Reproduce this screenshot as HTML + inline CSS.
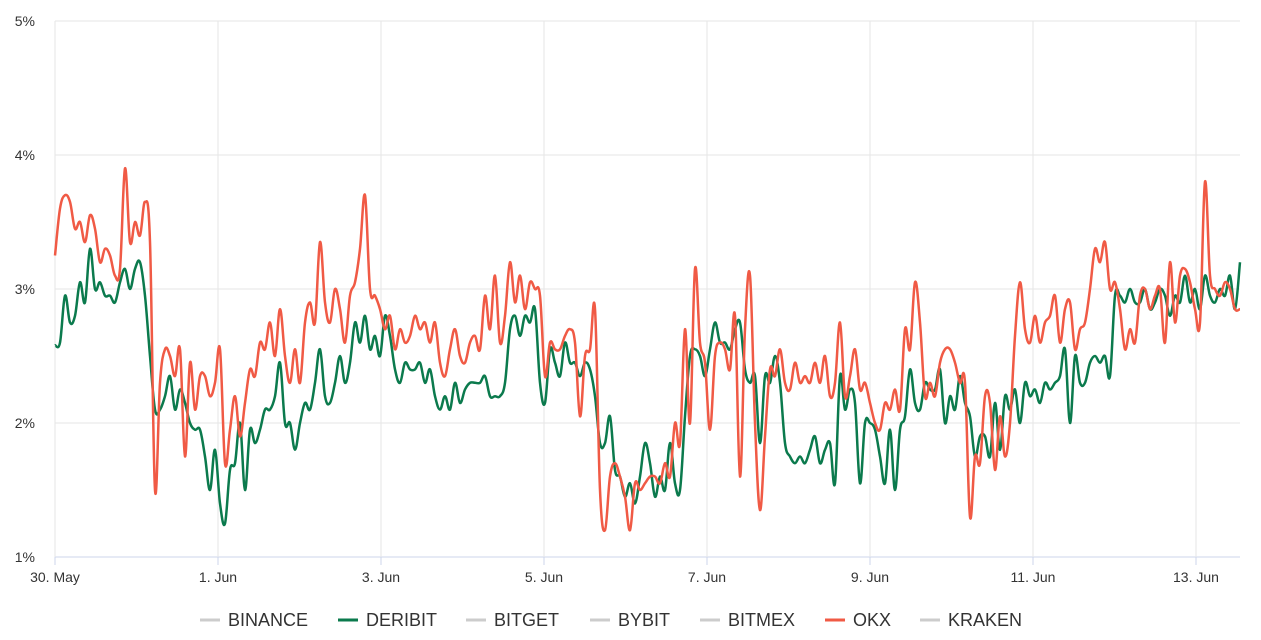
<!DOCTYPE html>
<html><head><meta charset="utf-8"><style>
body{margin:0;background:#fff;font-family:"Liberation Sans",sans-serif}
svg{display:block}
</style></head><body>
<svg id="chart" width="1261" height="640"></svg>
<script>
const xTickLabels=["30. May","1. Jun","3. Jun","5. Jun","7. Jun","9. Jun","11. Jun","13. Jun"];
const xTickDays=[0,2,4,6,8,10,12,14];
const yTicks=[1,2,3,4,5];
const totalDays=14.54;
const deribit=[2.58,2.6,2.95,2.75,2.8,3.05,2.9,3.3,3.0,3.05,2.95,2.95,2.9,3.05,3.15,3.0,3.15,3.2,2.95,2.5,2.1,2.1,2.2,2.35,2.1,2.25,2.15,2.0,1.95,1.95,1.75,1.5,1.8,1.4,1.25,1.65,1.7,2.0,1.5,1.95,1.85,1.95,2.1,2.1,2.2,2.45,2.0,2.0,1.8,2.0,2.15,2.1,2.3,2.55,2.2,2.15,2.3,2.5,2.3,2.45,2.75,2.6,2.8,2.55,2.65,2.5,2.8,2.65,2.4,2.3,2.45,2.4,2.4,2.45,2.3,2.4,2.2,2.1,2.2,2.1,2.3,2.15,2.25,2.3,2.3,2.3,2.35,2.2,2.2,2.2,2.3,2.7,2.8,2.65,2.8,2.75,2.85,2.3,2.15,2.55,2.45,2.35,2.6,2.45,2.45,2.35,2.45,2.4,2.2,1.85,1.85,2.05,1.65,1.6,1.45,1.55,1.4,1.6,1.85,1.7,1.45,1.6,1.5,1.85,1.55,1.5,2.05,2.5,2.55,2.5,2.35,2.55,2.75,2.6,2.6,2.55,2.7,2.75,2.4,2.3,2.35,1.85,2.35,2.3,2.5,2.3,1.85,1.75,1.7,1.75,1.7,1.8,1.9,1.7,1.8,1.85,1.55,2.35,2.1,2.25,2.15,1.55,2.0,2.0,1.95,1.75,1.55,1.95,1.5,1.95,2.05,2.4,2.15,2.1,2.3,2.25,2.25,2.4,2.0,2.2,2.1,2.35,2.15,2.05,1.75,1.9,1.9,1.75,2.15,1.8,2.2,2.1,2.25,2.0,2.3,2.2,2.25,2.15,2.3,2.25,2.3,2.35,2.55,2.0,2.5,2.3,2.3,2.45,2.5,2.45,2.5,2.35,2.95,2.95,2.9,3.0,2.9,2.9,3.0,2.85,2.9,3.0,2.95,2.8,2.95,2.9,3.1,2.9,3.0,2.85,3.1,2.95,2.9,3.0,2.95,3.1,2.85,3.2];
const okx=[3.25,3.6,3.7,3.65,3.45,3.5,3.35,3.55,3.45,3.2,3.3,3.25,3.1,3.15,3.9,3.35,3.5,3.4,3.65,3.35,1.5,2.3,2.55,2.5,2.35,2.55,1.75,2.45,2.1,2.35,2.35,2.2,2.3,2.55,1.7,1.95,2.2,1.9,2.15,2.4,2.35,2.6,2.55,2.75,2.5,2.85,2.5,2.3,2.55,2.3,2.75,2.9,2.75,3.35,2.9,2.75,3.0,2.85,2.6,2.95,3.05,3.3,3.7,3.0,2.95,2.85,2.7,2.8,2.55,2.7,2.6,2.65,2.8,2.7,2.75,2.6,2.75,2.45,2.35,2.55,2.7,2.5,2.45,2.6,2.65,2.55,2.95,2.7,3.1,2.6,2.8,3.2,2.9,3.1,2.85,3.05,3.0,2.95,2.35,2.6,2.55,2.55,2.65,2.7,2.6,2.05,2.5,2.55,2.85,1.5,1.2,1.6,1.7,1.6,1.45,1.2,1.55,1.5,1.55,1.6,1.6,1.55,1.7,1.6,2.0,1.85,2.7,2.0,3.15,2.6,2.45,1.95,2.5,2.6,2.55,2.4,2.8,1.6,2.7,3.1,2.0,1.35,1.9,2.4,2.35,2.55,2.3,2.25,2.45,2.3,2.35,2.3,2.45,2.3,2.5,2.2,2.3,2.75,2.2,2.35,2.55,2.25,2.3,2.15,2.0,1.95,2.15,2.1,2.25,2.1,2.7,2.55,3.05,2.75,2.2,2.3,2.2,2.45,2.55,2.55,2.45,2.3,2.3,1.3,1.75,1.7,2.2,2.15,1.65,2.05,1.75,2.0,2.65,3.05,2.7,2.6,2.8,2.6,2.75,2.8,2.95,2.6,2.85,2.9,2.55,2.7,2.75,3.0,3.3,3.2,3.35,3.0,3.05,2.85,2.55,2.7,2.6,2.95,3.0,2.85,2.95,3.0,2.6,3.2,2.75,3.1,3.15,3.05,2.85,2.75,3.8,3.1,3.0,2.95,3.05,3.0,2.85,2.85];
const legendNames=["BINANCE","DERIBIT","BITGET","BYBIT","BITMEX","OKX","KRAKEN"];
const legendColors=["#cccccc","#0b7a4d","#cccccc","#cccccc","#cccccc","#f05a45","#cccccc"];

const NS="http://www.w3.org/2000/svg";
const svg=document.getElementById('chart');
const L=55,R=1240,T=21,B=557;
const xs=d=>L+d*(R-L)/totalDays;
const ys=v=>B-(v-1)*(B-T)/4;
function mk(tag,attrs,parent){const e=document.createElementNS(NS,tag);for(const k in attrs)e.setAttribute(k,attrs[k]);(parent||svg).appendChild(e);return e;}

yTicks.forEach(v=>{
  const g=mk('line',{x1:L,x2:R,y1:ys(v),y2:ys(v),stroke:v===1?'#ccd6eb':'#e6e6e6','stroke-width':1});
  
  
  const t=mk('text',{x:35,y:ys(v)+5,'text-anchor':'end','font-size':14,fill:'#333'});
  t.textContent=v+'%';
  
  
});
xTickDays.forEach((d,i)=>{
  const g=mk('line',{x1:xs(d),x2:xs(d),y1:T,y2:B,stroke:'#e6e6e6','stroke-width':1});
  
  
  const tk=mk('line',{x1:xs(d),x2:xs(d),y1:B,y2:B+8,stroke:'#ccd6eb'});
  
  
  const t=mk('text',{x:xs(d),y:582,'text-anchor':'middle','font-size':14,fill:'#333'});
  t.textContent=xTickLabels[i];
  
  
});

function pathFor(vals){
  const n=vals.length;
  const pts=vals.map((v,i)=>[xs(i*totalDays/(n-1)),ys(v)]);
  let d='M'+pts[0][0].toFixed(1)+','+pts[0][1].toFixed(1);
  for(let i=0;i<n-1;i++){
    const p0=pts[Math.max(0,i-1)],p1=pts[i],p2=pts[i+1],p3=pts[Math.min(n-1,i+2)];
    const k=0.18;
    const c1=[p1[0]+(p2[0]-p0[0])*k,p1[1]+(p2[1]-p0[1])*k];
    const c2=[p2[0]-(p3[0]-p1[0])*k,p2[1]-(p3[1]-p1[1])*k];
    d+='C'+c1[0].toFixed(1)+','+c1[1].toFixed(1)+' '+c2[0].toFixed(1)+','+c2[1].toFixed(1)+' '+p2[0].toFixed(1)+','+p2[1].toFixed(1);
  }
  return d;
}
const pd=mk('path',{d:pathFor(deribit),fill:'none',stroke:'#0b7a4d','stroke-width':2.5,'stroke-linejoin':'round'});


const po=mk('path',{d:pathFor(okx),fill:'none',stroke:'#f05a45','stroke-width':2.5,'stroke-linejoin':'round'});



const legendX=[200,338,466,590,700,825,920];
legendNames.forEach((n,i)=>{
  const g=mk('g',{});
  
  
  mk('line',{x1:legendX[i],x2:legendX[i]+20,y1:620,y2:620,stroke:legendColors[i],'stroke-width':3},g);
  const t=mk('text',{x:legendX[i]+28,y:626,'font-size':18,fill:'#333'},g);
  t.textContent=n;
});
</script>
</body></html>
